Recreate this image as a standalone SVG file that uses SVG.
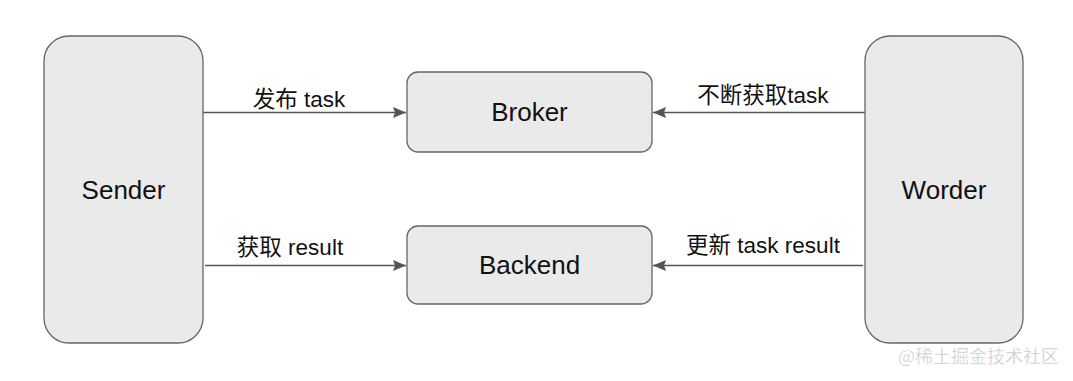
<svg xmlns="http://www.w3.org/2000/svg" width="1073" height="381" viewBox="0 0 1073 381">
<style>
.node{fill:#eaeaea;stroke:#666;stroke-width:1.3}
.nt{font-family:"Liberation Sans",Arial,sans-serif;font-size:26px;fill:#111;text-anchor:middle}
.lbl{font-family:"Liberation Sans","Noto Sans CJK SC",sans-serif;font-size:22.5px;fill:#111;text-anchor:middle}
.edge{stroke:#555;stroke-width:1.3;fill:none;marker-end:url(#ah)}
.wm{font-family:"Noto Sans CJK SC",sans-serif;font-size:18px;fill:#c4c4c4;stroke:#fff;stroke-width:0.4;text-anchor:end}
</style>
<defs>
<marker id="ah" markerUnits="userSpaceOnUse" markerWidth="15" markerHeight="12" refX="13" refY="5.5" orient="auto">
<path d="M0,0 L13,5.5 L0,11 L2,5.5 Z" fill="#555"/>
</marker>
</defs>
<rect width="1073" height="381" fill="#fff"/>
<g id="connectors">
<path class="edge" d="M203,112.5 H406"/>
<path class="edge" d="M865,112.5 H653"/>
<path class="edge" d="M205,265.5 H406"/>
<path class="edge" d="M863,265.5 H653"/>
<text class="lbl" x="299" y="107">发布 task</text>
<text class="lbl" x="763" y="103">不断获取task</text>
<text class="lbl" x="290" y="255">获取 result</text>
<text class="lbl" x="763" y="253">更新 task result</text>
</g>
<g id="sender">
<rect class="node" x="44" y="36" width="159" height="307" rx="25"/>
<text class="nt" x="123.5" y="199">Sender</text>
</g>
<g id="broker">
<rect class="node" x="407" y="72" width="245" height="80" rx="11"/>
<text class="nt" x="529.5" y="121">Broker</text>
</g>
<g id="backend">
<rect class="node" x="407" y="226" width="245" height="78" rx="11"/>
<text class="nt" x="529.5" y="274">Backend</text>
</g>
<g id="worder">
<rect class="node" x="865" y="36" width="158" height="307" rx="25"/>
<text class="nt" x="944" y="199">Worder</text>
</g>
<text class="wm" x="1059" y="363">@稀土掘金技术社区</text>
</svg>
